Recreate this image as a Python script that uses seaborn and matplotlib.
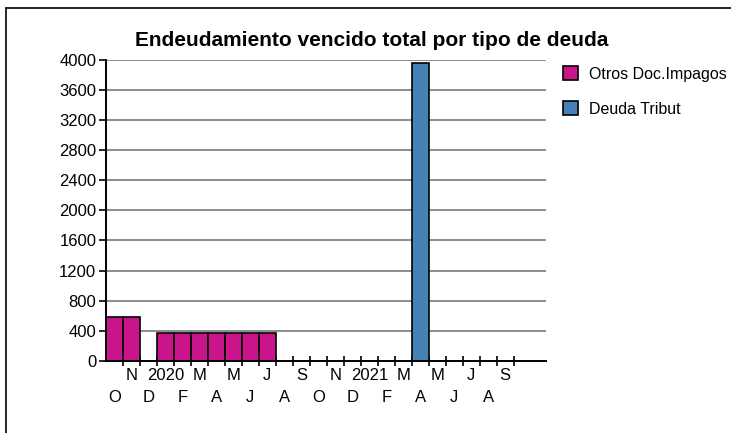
import matplotlib
matplotlib.use("Agg")
import matplotlib.pyplot as plt
import seaborn as sns
import pandas as pd
from matplotlib.lines import Line2D

# ---- data ----
months = ["2019-10", "2019-11", "2019-12", "2020-01", "2020-02", "2020-03",
          "2020-04", "2020-05", "2020-06", "2020-07", "2020-08", "2020-09",
          "2020-10", "2020-11", "2020-12", "2021-01", "2021-02", "2021-03",
          "2021-04", "2021-05", "2021-06", "2021-07", "2021-08", "2021-09"]
tick_labels = ["O", "N", "D", "2020", "F", "M", "A", "M", "J", "J", "A", "S",
               "O", "N", "D", "2021", "F", "M", "A", "M", "J", "J", "A", "S"]
otros = [578, 578, 0, 370, 370, 370, 370, 370, 370, 370, 0, 0,
         0, 0, 0, 0, 0, 0, 0, 0, 0, 0, 0, 0]
tribut = [0, 0, 0, 0, 0, 0, 0, 0, 0, 0, 0, 0,
          0, 0, 0, 0, 0, 0, 3950, 0, 0, 0, 0, 0]
series_names = ["Otros Doc.Impagos", "Deuda Tribut"]
colors = ["#C8168A", "#4682B4"]
title = "Endeudamiento vencido total por tipo de deuda"
yticks = list(range(0, 4001, 400))

rows = []
for m, a, b in zip(months, otros, tribut):
    rows.append((m, series_names[0], a))
    rows.append((m, series_names[1], b))
df = pd.DataFrame(rows, columns=["mes", "serie", "valor"])
df_plot = df[df["valor"] > 0]

sns.set_theme(style="white")
plt.rcParams["font.family"] = ["Liberation Sans", "DejaVu Sans"]
plt.rcParams["text.color"] = "black"
plt.rcParams["xtick.color"] = "black"
plt.rcParams["ytick.color"] = "black"
plt.rcParams["xtick.labelcolor"] = "black"
plt.rcParams["ytick.labelcolor"] = "black"

W, H = 731, 433
fig = plt.figure(figsize=(W / 100, H / 100), dpi=100)
ax = fig.add_axes([106 / W, 1 - 361 / H, (546 - 106) / W, (361 - 59.5) / H])

sns.barplot(data=df_plot, x="mes", y="valor", hue="serie", order=months,
            hue_order=series_names, palette=colors, dodge=False, width=1.0,
            edgecolor="black", linewidth=1.2, saturation=1, ax=ax, legend=False)

ax.set_xlim(-0.5, 25.4)
ax.set_ylim(0, 4000)
ax.set_yticks(yticks)
ax.set_yticklabels([str(v) for v in yticks], fontsize=12, color="black")
ax.yaxis.grid(True, color="#8c8c8c", linewidth=1.4)
ax.set_axisbelow(True)

# upper row of month labels as tick labels, lower row as texts
upper_pos = [i for i in range(len(months)) if i % 2 == 1]
ax.set_xticks(upper_pos)
ax.set_xticklabels([tick_labels[i] for i in upper_pos], fontsize=12, color="black")
for i in range(0, len(months), 2):
    ax.text(i, -36 / 301.5, tick_labels[i], transform=ax.get_xaxis_transform(),
            ha="center", va="center", fontsize=12, color="black")
ax.set_xticks([i + 0.5 for i in range(len(months))], minor=True)
ax.tick_params(axis="x", which="major", length=0, pad=5, bottom=True)
ax.tick_params(axis="x", which="minor", length=7, direction="inout", width=1.2,
               color="black", bottom=True)
ax.tick_params(axis="y", which="major", length=5, direction="out", width=1.2,
               color="black", pad=2, left=True)
ax.set_xlabel("")
ax.set_ylabel("")

for s in ["top", "right"]:
    ax.spines[s].set_visible(False)
for s in ["left", "bottom"]:
    ax.spines[s].set_color("black")
    ax.spines[s].set_linewidth(1.4)

fig.text(372 / W, 1 - 40 / H, title, ha="center", va="center",
         fontsize=15, fontweight="bold", color="black")

handles = [plt.Rectangle((0, 0), 1, 1, facecolor=c, edgecolor="black", linewidth=1.2) for c in colors]
leg = fig.legend(handles, series_names, loc="upper left", bbox_to_anchor=(557 / W, 1 - 60 / H),
                 frameon=False, fontsize=11.5, handlelength=0.9, handleheight=0.9,
                 labelspacing=1.25, handletextpad=0.7, borderaxespad=0)
for t in leg.get_texts():
    t.set_color("black")

# outer frame (top and left edges visible)
fig.add_artist(Line2D([5.5 / W, 5.5 / W], [0, 1 - 7.5 / H], transform=fig.transFigure,
                      color="black", linewidth=1.2))
fig.add_artist(Line2D([5.5 / W, 1], [1 - 7.5 / H, 1 - 7.5 / H], transform=fig.transFigure,
                      color="black", linewidth=1.2))

fig.savefig("out.png", dpi=100)
